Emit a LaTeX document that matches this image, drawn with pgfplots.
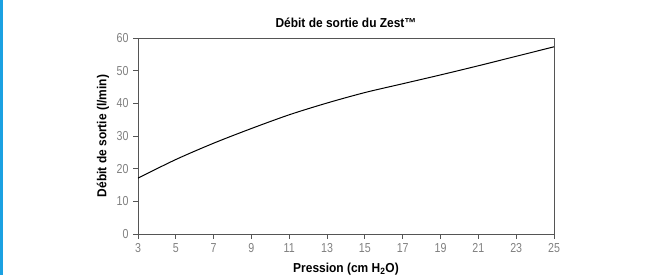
\documentclass[border=0pt]{standalone}
\usepackage{pgfplots}
\pgfplotsset{compat=1.18}
\usepackage{fontspec}
\setmainfont{Liberation Sans}[FakeStretch=0.82]
\newfontfamily\labelfont{Liberation Sans}[FakeStretch=0.92]
\definecolor{axisgray}{HTML}{555555}
\definecolor{tickgray}{HTML}{808080}
\definecolor{barblue}{HTML}{1BA1E2}
\begin{document}
\begin{tikzpicture}
\useasboundingbox (0,0) rectangle (664pt,275pt);
\fill[barblue] (0,0) rectangle (3pt,275pt);
\begin{axis}[
  at={(138pt,41pt)}, anchor=south west,
  scale only axis,
  width=416pt, height=196pt,
  xmin=3, xmax=25, ymin=0, ymax=60,
  xtick={3,5,...,25}, ytick={0,10,...,60},
  axis line style={axisgray, line width=0.9pt},
  tick style={axisgray, line width=0.9pt},
  tick align=outside, major tick length=5pt,
  xtick pos=bottom, ytick pos=left,
  /pgf/number format/assume math mode=true,
  ticklabel style={font=\fontsize{13}{14}\selectfont, text=tickgray},
  xticklabel style={yshift=-1pt},
  yticklabel style={xshift=-1pt},
  title={\textbf{Débit de sortie du Zest™}},
  title style={font=\labelfont\fontsize{13}{14}\selectfont, at={(rel axis cs:0.5,1.045)}, anchor=center},
  xlabel={\textbf{Pression (cm H\textsubscript{2}O)}},
  xlabel style={font=\labelfont\fontsize{13}{14}\selectfont, at={(rel axis cs:0.5,-0.177)}, anchor=center},
  ylabel={\textbf{Débit de sortie (l/min)}},
  ylabel style={font=\labelfont\fontsize{13}{14}\selectfont, at={(rel axis cs:-0.084,0.5)}, anchor=center},
  clip=false,
]
\addplot[black, line width=1pt, smooth] coordinates {
 (3,17.1) (5,22.8) (7,27.8) (9,32.3) (11,36.5) (13,40.1) (15,43.3)
 (17,46.0) (19,48.7) (21,51.5) (23,54.4) (25,57.3)
};
\end{axis}
\end{tikzpicture}
\end{document}
